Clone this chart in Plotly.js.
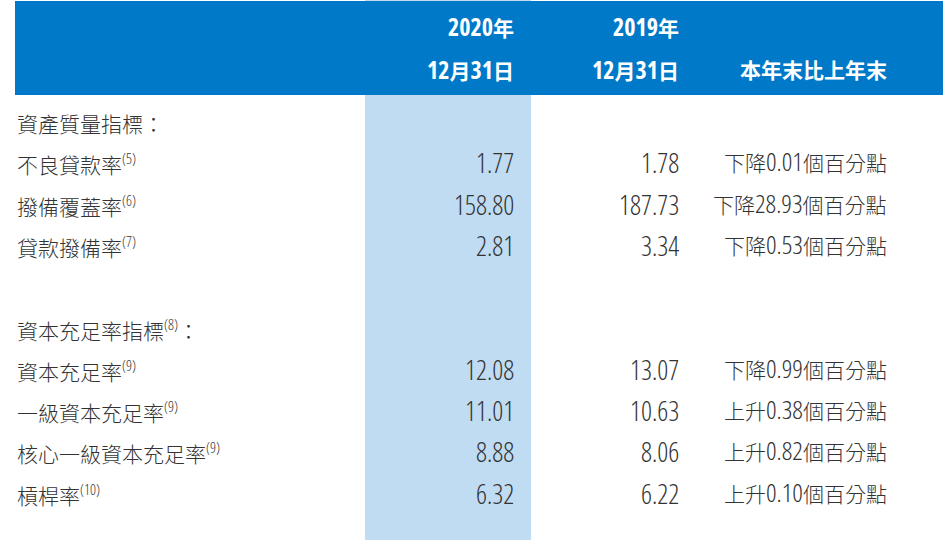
<!DOCTYPE html>
<html>
<head>
<meta charset="utf-8">
<script src="https://cdn.plot.ly/plotly-3.0.1.min.js"></script>
<style>
html,body{margin:0;padding:0;background:#fff;}
#chart{width:943px;height:540px;}
text, tspan{font-stretch:condensed;}
</style>
</head>
<body>
<div id="chart"></div>
<script>
// ---- data ----
const headerYear = ['2020年', '2019年', ''];
const headerDate = ['12月31日', '12月31日', '本年末比上年末'];
const labels = ['資產質量指標：', '不良貸款率', '撥備覆蓋率', '貸款撥備率', '', '資本充足率指標', '資本充足率', '一級資本充足率', '核心一級資本充足率', '槓桿率'];
const notes = ['', '(5)', '(6)', '(7)', '', '(8)', '(9)', '(9)', '(9)', '(10)'];
const labelSuffix = ['', '', '', '', '', '：', '', '', '', ''];
const values2020 = [null, 1.77, 158.80, 2.81, null, null, 12.08, 11.01, 8.88, 6.32];
const values2019 = [null, 1.78, 187.73, 3.34, null, null, 13.07, 10.63, 8.06, 6.22];
const changes = ['', '下降0.01個百分點', '下降28.93個百分點', '下降0.53個百分點', '', '', '下降0.99個百分點', '上升0.38個百分點', '上升0.82個百分點', '上升0.10個百分點'];

// ---- layout constants ----
const W = 943, H = 540;
const row0 = 122.5, rowStep = 41.3;
const colRight = [515, 680, 888];
const labelX = 16;
const headerBlue = '#0079C8';
const colBlue = '#C0DCF2';
const textColor = '#333333';
const cjkFont = '"Noto Sans CJK TC", sans-serif';
const latinFont = '"Open Sans", sans-serif';

function mix(text, size) {
  return text.replace(/[0-9A-Za-z().]+/g, function (m) {
    return '<span style="font-family:Open Sans;font-size:' + size + 'px">' + m + '</span>';
  });
}

const annotations = [];
function ann(x, y, text, anchor, font) {
  annotations.push({x: x, y: y, xref: 'x', yref: 'y', text: text, showarrow: false,
    xanchor: anchor, yanchor: 'middle', font: font, borderpad: 0});
}

// header
const headFont = {family: cjkFont, size: 21, color: '#ffffff', weight: 700};
for (let c = 0; c < 3; c++) {
  if (headerYear[c]) ann(colRight[c], 26, mix(headerYear[c], 24), 'right', headFont);
  ann(colRight[c], 69, mix(headerDate[c], 24), 'right', headFont);
}

// body
const labFont = {family: cjkFont, size: 21, color: textColor, weight: 300};
const valFont = {family: latinFont, size: 27, color: textColor, weight: 300};
const chgFont = {family: cjkFont, size: 21, color: textColor, weight: 300};
for (let i = 0; i < labels.length; i++) {
  const y = row0 + rowStep * i;
  if (labels[i]) {
    let t = labels[i];
    if (notes[i]) t += '<sup><span style="font-family:Open Sans">' + notes[i] + '</span></sup>';
    t += labelSuffix[i];
    ann(labelX, y, t, 'left', labFont);
  }
  if (values2020[i] !== null) ann(colRight[0], y - 1, values2020[i].toFixed(2), 'right', valFont);
  if (values2019[i] !== null) ann(colRight[1], y - 1, values2019[i].toFixed(2), 'right', valFont);
  if (changes[i]) ann(colRight[2], y - 2.5, mix(changes[i], 26), 'right', chgFont);
}

const shapes = [
  {type: 'rect', xref: 'x', yref: 'y', x0: 365, x1: 531, y0: 0, y1: H, fillcolor: colBlue, line: {width: 0}, layer: 'below'},
  {type: 'rect', xref: 'x', yref: 'y', x0: 15, x1: W, y0: 1, y1: 95, fillcolor: headerBlue, line: {width: 0}, layer: 'below'}
];

const layout = {
  width: W, height: H,
  margin: {l: 0, r: 0, t: 0, b: 0, pad: 0},
  paper_bgcolor: '#ffffff', plot_bgcolor: '#ffffff',
  xaxis: {range: [0, W], visible: false, fixedrange: true},
  yaxis: {range: [H, 0], visible: false, fixedrange: true},
  showlegend: false,
  shapes: shapes,
  annotations: annotations
};

Plotly.newPlot('chart', [{x: [], y: [], type: 'scatter', mode: 'markers', hoverinfo: 'skip'}], layout, {displayModeBar: false, staticPlot: true});
</script>
</body>
</html>
